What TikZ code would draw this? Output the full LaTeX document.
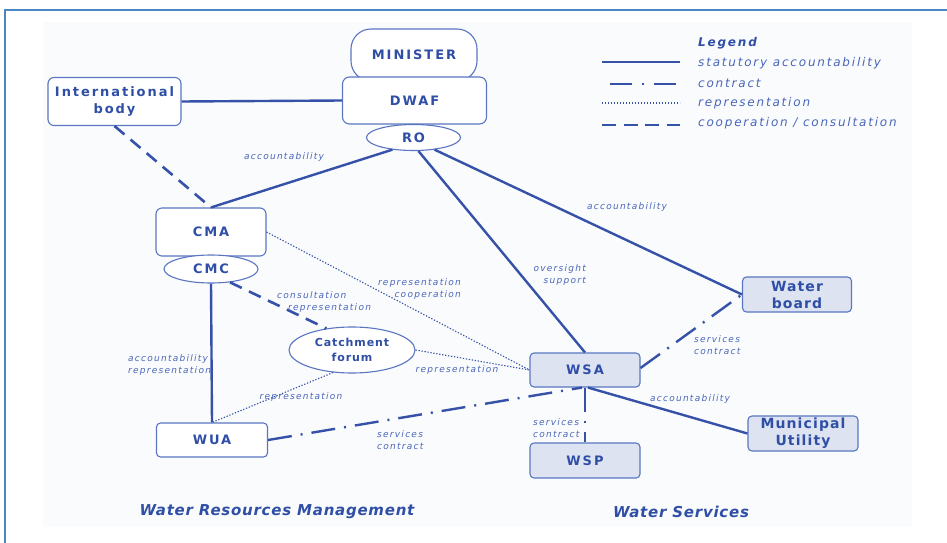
\documentclass[tikz,border=0pt]{standalone}
\usepackage{fontspec}
\setmainfont{DejaVu Sans}
\newfontfamily\nodefont{DejaVu Sans}[LetterSpace=15]
\newfontfamily\smnodefont{DejaVu Sans}[LetterSpace=8]
\newfontfamily\labfont{DejaVu Sans}[LetterSpace=14]
\newfontfamily\legfont{DejaVu Sans}[LetterSpace=15]
\newfontfamily\secfont{DejaVu Sans}[LetterSpace=5]
\usetikzlibrary{shapes.geometric,calc}
\definecolor{framec}{HTML}{4A86C0}
\definecolor{lnc}{HTML}{3552A8}
\definecolor{bdc}{HTML}{5A76C2}
\definecolor{txc}{HTML}{2F4EA6}
\definecolor{lbc}{HTML}{4A66BA}
\definecolor{flc}{HTML}{DDE3F1}
\definecolor{bgc}{HTML}{FAFBFD}
\begin{document}
\begin{tikzpicture}[x=1pt,y=-1pt,
  box/.style={draw=bdc,line width=1.1pt,fill=white,rounded corners=6pt,inner sep=0pt,text=txc,
    font={\nodefont\bfseries\fontsize{13}{15}\selectfont},align=center},
  fbox/.style={box,fill=flc,rounded corners=4pt},
  ell/.style={box,shape=ellipse},
  stat/.style={draw=lnc,line width=2.4pt},
  contr/.style={draw=lnc,line width=2.4pt,dash pattern=on 24pt off 9pt on 2pt off 9pt},
  repr/.style={draw=lnc,line width=1.1pt,dash pattern=on 1.3pt off 1.7pt},
  coop/.style={draw=lnc,line width=2.6pt,dash pattern=on 13pt off 8pt},
  lab/.style={text=lbc,font={\labfont\itshape\fontsize{9}{12}\selectfont},inner sep=0pt},
  legtxt/.style={text=lbc,font={\legfont\itshape\fontsize{12}{14}\selectfont},inner sep=0pt,anchor=west},
  sect/.style={text=txc,font={\secfont\bfseries\itshape\fontsize{15}{17}\selectfont},inner sep=0pt}
]
\useasboundingbox (0,0) rectangle (947,543);
\fill[bgc] (43,22) rectangle (912,527);
\draw[framec,line width=1.6pt] (5,545) -- (5,10) -- (949,10);

% nodes
\node[box,minimum width=133pt,minimum height=48pt] (intl) at (114.5,101.5) {International\\[2pt]body};
\node[box,rounded corners=20pt,minimum width=126pt,minimum height=52pt] (min) at (414,55) {MINISTER};
\node[box,rounded corners=7pt,minimum width=144pt,minimum height=47pt] (dwaf) at (414.5,100.5) {DWAF};
\node[ell,minimum width=94pt,minimum height=26pt] (ro) at (413.5,137.5) {RO};
\node[box,minimum width=110pt,minimum height=48pt] (cma) at (211,232) {CMA};
\node[ell,minimum width=94pt,minimum height=28pt] (cmc) at (211,269) {CMC};
\node[ell,minimum width=126pt,minimum height=46pt,font={\smnodefont\bfseries\fontsize{11}{15}\selectfont}] (cf) at (352,350) {Catchment\\forum};
\node[box,rounded corners=4pt,minimum width=111pt,minimum height=34pt] (wua) at (212,440) {WUA};
\node[fbox,minimum width=110pt,minimum height=34pt] (wsa) at (585,370) {WSA};
\node[fbox,minimum width=110pt,minimum height=35pt] (wsp) at (585,460.5) {WSP};
\node[fbox,minimum width=109pt,minimum height=35pt,font={\smnodefont\bfseries\fontsize{14}{17}\selectfont}] (wb) at (797,294.5) {Water\\board};
\node[fbox,minimum width=110pt,minimum height=35pt,font={\smnodefont\bfseries\fontsize{14}{17}\selectfont}] (mu) at (803,433.5) {Municipal\\Utility};

% connectors
\draw[stat] (intl.east) -- (dwaf.west);
\draw[coop] (intl.south) -- (cma.north);
\draw[stat] (ro.210) -- (cma.north);
\draw[stat] (ro.290) -- (wsa.north);
\draw[stat] (ro.330) -- (wb.west);
\draw[repr] (cma.east) -- (wsa.west);
\draw[coop] (cmc.-35) -- (cf.140);
\draw[stat] (cmc.south) -- (wua.north);
\draw[repr] (cf.230) -- (wua.north);
\draw[repr] (cf.east) -- (wsa.west);
\draw[contr] (wua.east) -- ($(wsa.south)+(-3,0)$);
\draw[contr] ($(wsa.east)+(0,-2)$) -- (wb.west);
\draw[contr] (wsa.south) -- (wsp.north);
\draw[stat] ($(wsa.south)+(3,0)$) -- (mu.west);

% labels
\node[lab] at (284,157) {accountability};
\node[lab] at (627,207) {accountability};
\node[lab,align=right,anchor=east] at (586,275) {oversight\\support};
\node[lab,align=right,anchor=east] at (461,289) {representation\\cooperation};
\node[lab,align=left,anchor=west] at (277,302) {consultation\\\hspace*{11pt}representation};
\node[lab,align=left,anchor=west] at (128,365) {accountability\\representation};
\node[lab] at (301,397) {representation};
\node[lab] at (457,370) {representation};
\node[lab,align=left,anchor=west] at (377,440) {services\\contract};
\node[lab,align=left,anchor=west] at (694,345) {services\\contract};
\node[lab,align=left,anchor=west] at (533,428) {services\\contract};
\node[lab] at (690,399) {accountability};

% legend
\node[legtxt,text=txc,font={\legfont\bfseries\itshape\fontsize{12}{14}\selectfont}] (lg) at (698,43) {Legend};
\coordinate (l1a) at (602,62); \coordinate (l1b) at (680,62);
\coordinate (l2a) at (602,84); \coordinate (l2b) at (680,84);
\coordinate (l3a) at (602,103); \coordinate (l3b) at (680,103);
\coordinate (l4a) at (602,125); \coordinate (l4b) at (680,125);
\draw[stat] (l1a) -- (l1b);
\draw[contr,dash pattern=on 22pt off 10pt on 2pt off 10pt,dash phase=-8pt] (l2a) -- (l2b);
\draw[repr] (l3a) -- (l3b);
\draw[coop,dash pattern=on 14pt off 7.5pt] (l4a) -- (l4b);
\node[legtxt] at (698,63) {statutory accountability};
\node[legtxt] at (698,83) {contract};
\node[legtxt] at (698,103) {representation};
\node[legtxt] at (698,123) {cooperation / consultation};

% sections
\node[sect] at (277,512) {Water Resources Management};
\node[sect] at (681,512) {Water Services};
\end{tikzpicture}
\end{document}
